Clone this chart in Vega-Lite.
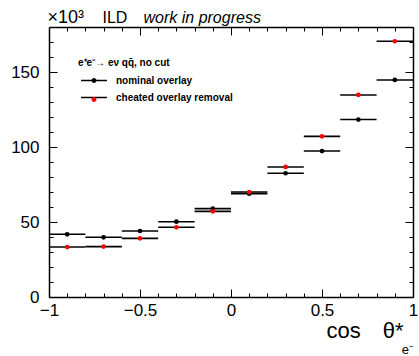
{
  "$schema": "https://vega.github.io/schema/vega-lite/v6.json",
  "width": 364,
  "height": 270,
  "autosize": {"type": "none"},
  "padding": {"left": 49, "top": 27, "right": 6, "bottom": 59},
  "background": "white",
  "config": {
    "view": {"stroke": null},
    "font": "Liberation Sans",
    "axis": {
      "grid": false,
      "domainColor": "black",
      "domainWidth": 1.5,
      "tickColor": "black",
      "tickWidth": 1,
      "labelColor": "black",
      "titleColor": "black",
      "labelFont": "Liberation Sans",
      "titleFont": "Liberation Sans",
      "titleFontWeight": "normal",
      "labelOverlap": false,
      "labelFlush": false
    }
  },
  "title": {
    "text": "e⁻",
    "orient": "bottom",
    "anchor": "end",
    "frame": "group",
    "offset": 0,
    "dy": 3,
    "fontSize": 13,
    "fontWeight": "normal",
    "font": "Liberation Sans",
    "color": "black"
  },
  "data": {
    "values": [
      {"series": "nominal overlay", "x": -0.9, "lo": -1.0, "hi": -0.8, "value": 41.8},
      {"series": "nominal overlay", "x": -0.7, "lo": -0.8, "hi": -0.6, "value": 39.8},
      {"series": "nominal overlay", "x": -0.5, "lo": -0.6, "hi": -0.4, "value": 44.0},
      {"series": "nominal overlay", "x": -0.3, "lo": -0.4, "hi": -0.2, "value": 50.2},
      {"series": "nominal overlay", "x": -0.1, "lo": -0.2, "hi": 0.0, "value": 58.9},
      {"series": "nominal overlay", "x": 0.1, "lo": 0.0, "hi": 0.2, "value": 68.9},
      {"series": "nominal overlay", "x": 0.3, "lo": 0.2, "hi": 0.4, "value": 82.5},
      {"series": "nominal overlay", "x": 0.5, "lo": 0.4, "hi": 0.6, "value": 97.3},
      {"series": "nominal overlay", "x": 0.7, "lo": 0.6, "hi": 0.8, "value": 118.3},
      {"series": "nominal overlay", "x": 0.9, "lo": 0.8, "hi": 1.0, "value": 144.7},
      {"series": "cheated overlay removal", "x": -0.9, "lo": -1.0, "hi": -0.8, "value": 33.3},
      {"series": "cheated overlay removal", "x": -0.7, "lo": -0.8, "hi": -0.6, "value": 33.6},
      {"series": "cheated overlay removal", "x": -0.5, "lo": -0.6, "hi": -0.4, "value": 39.1},
      {"series": "cheated overlay removal", "x": -0.3, "lo": -0.4, "hi": -0.2, "value": 46.5},
      {"series": "cheated overlay removal", "x": -0.1, "lo": -0.2, "hi": 0.0, "value": 57.1},
      {"series": "cheated overlay removal", "x": 0.1, "lo": 0.0, "hi": 0.2, "value": 70.0},
      {"series": "cheated overlay removal", "x": 0.3, "lo": 0.2, "hi": 0.4, "value": 86.7},
      {"series": "cheated overlay removal", "x": 0.5, "lo": 0.4, "hi": 0.6, "value": 107.1},
      {"series": "cheated overlay removal", "x": 0.7, "lo": 0.6, "hi": 0.8, "value": 134.7},
      {"series": "cheated overlay removal", "x": 0.9, "lo": 0.8, "hi": 1.0, "value": 170.5}
    ]
  },
  "layer": [
    {
      "mark": {"type": "rule", "strokeWidth": 1.6},
      "encoding": {
        "x": {
          "field": "lo",
          "type": "quantitative",
          "scale": {"domain": [-1, 1], "nice": false, "zero": false},
          "axis": {
            "orient": "bottom",
            "values": [-1, -0.9, -0.8, -0.7, -0.6, -0.5, -0.4, -0.3, -0.2, -0.1, 0, 0.1, 0.2, 0.3, 0.4, 0.5, 0.6, 0.7, 0.8, 0.9, 1],
            "format": "~g",
            "labelExpr": "abs(datum.value*2-round(datum.value*2))<0.001 ? datum.label : ''",
            "tickSize": {"condition": {"test": "abs(datum.value*2-round(datum.value*2))<0.001", "value": -8}, "value": -4},
            "labelPadding": 13,
            "labelFontSize": 17,
            "title": "cos\u2003θ*",
            "titleFontSize": 22,
            "titleX": 277,
            "titleY": 40,
            "titleAlign": "left",
            "titleBaseline": "alphabetic"
          }
        },
        "x2": {"field": "hi"},
        "y": {
          "field": "value",
          "type": "quantitative",
          "scale": {"domain": [0, 180], "nice": false, "zero": true},
          "axis": {
            "orient": "left",
            "values": [0, 10, 20, 30, 40, 50, 60, 70, 80, 90, 100, 110, 120, 130, 140, 150, 160, 170],
            "labelExpr": "datum.value % 50 == 0 ? datum.label : ''",
            "tickSize": {"condition": {"test": "datum.value % 50 == 0", "value": -8}, "value": -4},
            "labelPadding": 18,
            "labelFontSize": 17,
            "title": "×10³",
            "titleAngle": 0,
            "titleFontSize": 18,
            "titleX": -2,
            "titleY": -5,
            "titleAlign": "left",
            "titleBaseline": "alphabetic"
          }
        },
        "stroke": {
          "field": "series",
          "type": "nominal",
          "sort": "descending",
          "scale": {"range": ["black", "black"]},
          "legend": {
            "orient": "none",
            "legendX": 29,
            "legendY": 30.5,
            "direction": "vertical",
            "title": "e⁺e⁻→ eν qq̄, no cut",
            "titleFont": "Liberation Sans",
            "titleFontSize": 10,
            "titleFontWeight": "bold",
            "titleColor": "black",
            "titlePadding": 8,
            "labelFont": "Liberation Sans",
            "labelFontSize": 10,
            "labelFontWeight": "bold",
            "labelColor": "black",
            "labelOffset": 17,
            "symbolType": "M-4,0H4",
            "symbolSize": 42,
            "symbolOffset": 11,
            "symbolStrokeWidth": 1.5,
            "rowPadding": 7
          }
        }
      }
    },
    {
      "mark": {"type": "point", "filled": true, "size": 22, "opacity": 1},
      "encoding": {
        "x": {
          "field": "x",
          "type": "quantitative",
          "axis": {
            "orient": "top",
            "values": [-1, -0.9, -0.8, -0.7, -0.6, -0.5, -0.4, -0.3, -0.2, -0.1, 0, 0.1, 0.2, 0.3, 0.4, 0.5, 0.6, 0.7, 0.8, 0.9, 1],
            "labels": false,
            "tickSize": {"condition": {"test": "abs(datum.value*2-round(datum.value*2))<0.001", "value": -8}, "value": -4},
            "title": "work in progress",
            "titleFontSize": 16,
            "titleFontStyle": "italic",
            "titleX": 94,
            "titleY": -5,
            "titleAlign": "left",
            "titleBaseline": "alphabetic"
          }
        },
        "y": {
          "field": "value",
          "type": "quantitative",
          "axis": {
            "orient": "right",
            "values": [0, 10, 20, 30, 40, 50, 60, 70, 80, 90, 100, 110, 120, 130, 140, 150, 160, 170],
            "labels": false,
            "tickSize": {"condition": {"test": "datum.value % 50 == 0", "value": -8}, "value": -4},
            "title": "ILD",
            "titleAngle": 0,
            "titleFontSize": 16,
            "titleX": -311,
            "titleY": -5,
            "titleAlign": "left",
            "titleBaseline": "alphabetic"
          }
        },
        "fill": {
          "field": "series",
          "type": "nominal",
          "scale": {"domain": ["nominal overlay", "cheated overlay removal"], "range": ["black", "#ff0000"]},
          "legend": {
            "orient": "none",
            "legendX": 29,
            "legendY": 48.5,
            "zindex": 2,
            "direction": "vertical",
            "title": null,
            "labelFont": "Liberation Sans",
            "labelFontSize": 10,
            "labelExpr": "''",
            "labelOffset": 17,
            "symbolType": "M-0.75,0A0.75,0.75 0 1,0 0.75,0A0.75,0.75 0 1,0 -0.75,0Z",
            "symbolSize": 42,
            "symbolOffset": 11,
            "symbolStrokeWidth": 1.5,
            "symbolStrokeColor": "transparent",
            "symbolOpacity": 1,
            "rowPadding": 7
          }
        }
      }
    }
  ],
  "resolve": {"axis": {"x": "independent", "y": "independent"}}
}
